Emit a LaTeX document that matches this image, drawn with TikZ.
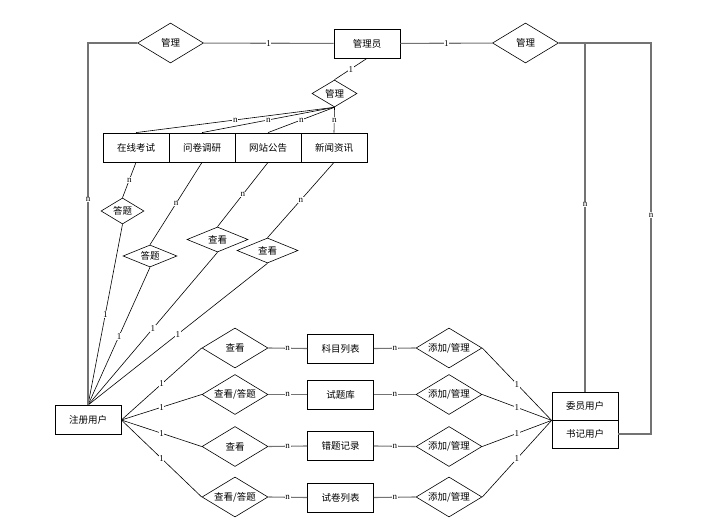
\documentclass[tikz,border=0pt]{standalone}
\usepackage{fontspec}
\setmainfont{Noto Sans CJK SC}
\newfontfamily\labfont{Liberation Serif}
\usetikzlibrary{shapes.geometric,calc}

\begin{document}
\begin{tikzpicture}[x=1pt,y=-1pt,font=\fontsize{9.5}{11}\selectfont,
		ent/.style={draw,line width=0.8pt,minimum width=66pt,minimum height=29pt,inner sep=0pt},
		rel/.style={diamond,draw,line width=0.6pt,aspect=1.65,inner sep=0pt,minimum width=66pt,minimum height=40pt},
		lab/.style={fill=white,inner sep=0.6pt,font=\labfont\fontsize{9}{9}\selectfont},
		grl/.style={draw=black!55,line width=1.1pt},
		thn/.style={draw=black,line width=0.6pt}]
			\useasboundingbox (0,0) rectangle (726,529);
			%管理员
			\node[ent] (admin) at (367,43.5) {管理员};
			\node[rel] (mgl) at (170.5,43) {管理};
			\node[rel] (mgr) at (525.5,43) {管理};
			\node[rel,minimum width=45pt,minimum height=27pt] (mgc) at (334.5,93.5) {管理};
			\draw[grl] (mgl) -- node[lab]{1} (admin);
			\draw[grl] (admin) -- node[lab]{1} (mgr);
			\draw[thn] (admin.south) -- node[lab]{1} (mgc.north);
			%上方实体
			\node[ent] (exam) at (136,147.5) {在线考试};
			\node[ent] (quest) at (202,147.5) {问卷调研};
			\node[ent] (notice) at (268,147.5) {网站公告};
			\node[ent] (news) at (334,147.5) {新闻资讯};
			\draw[thn] (mgc.south) -- node[lab]{n} (exam.north);
			\draw[thn] (mgc.south) -- node[lab]{n} (quest.north);
			\draw[thn] (mgc.south) -- node[lab]{n} (notice.north);
			\draw[thn] (mgc.south) -- node[lab]{n} (news.north);
			%注册用户
			\node[ent] (reg) at (88,420) {注册用户};
			\node[rel,minimum width=43pt,minimum height=26pt] (ans1) at (122.5,211) {答题};
			\node[rel,minimum width=54pt,minimum height=22pt] (ans2) at (150,256) {答题};
			\node[rel,minimum width=61pt,minimum height=25pt] (see1) at (217.5,239.5) {查看};
			\node[rel,minimum width=61pt,minimum height=25pt] (see2) at (267.5,250.5) {查看};
			\draw[thn] (exam.south) -- node[lab]{n} (ans1.north);
			\draw[thn] (quest.south) -- node[lab]{n} (ans2.north);
			\draw[thn] (notice.south) -- node[lab]{n} (see1.north);
			\draw[thn] (news.south) -- node[lab]{n} (see2.north);
			\draw[thn] (ans1.south) -- node[lab]{1} (reg.north);
			\draw[thn] (ans2.south) -- node[lab]{1} (reg.north);
			\draw[thn] (see1.south) -- node[lab]{1} (reg.north);
			\draw[thn] (see2.south) -- node[lab]{1} (reg.north);
			\draw[grl] (mgl.west) -| node[lab,pos=0.716]{n} (reg.north);
			%委员用户 书记用户
			\node[ent,minimum height=28pt] (wy) at (585,406) {委员用户};
			\node[ent,minimum height=28pt] (sj) at (585,434) {书记用户};
			\coordinate (rcorner) at (651,43);
			\draw[grl] (mgr.east) -| node[lab,pos=0.732]{n} (wy.north);
			\draw[grl] (mgr.east) -- (rcorner) |- node[lab,pos=0.22]{n} (sj.east);
			%下方四行
			\node[rel] (v1) at (235,348) {查看};
			\node[rel] (v2) at (235,394.5) {查看/答题};
			\node[rel] (v3) at (235,446.5) {查看};
			\node[rel] (v4) at (235,497) {查看/答题};
			\node[ent] (subj) at (340.5,348.5) {科目列表};
			\node[ent] (bank) at (340.5,394.5) {试题库};
			\node[ent] (wrong) at (340.5,446) {错题记录};
			\node[ent] (paper) at (340.5,497.5) {试卷列表};
			\node[rel] (a1) at (449,348) {添加/管理};
			\node[rel] (a2) at (449,394.5) {添加/管理};
			\node[rel] (a3) at (449,446.5) {添加/管理};
			\node[rel] (a4) at (449,497) {添加/管理};
			\foreach \r/\e/\a in {v1/subj/a1,v2/bank/a2,v3/wrong/a3,v4/paper/a4}{
				\draw[thn] (reg.east) -- node[lab]{1} (\r.west);
				\draw[grl] (\r.east) -- node[lab]{n} (\e.west);
				\draw[grl] (\e.east) -- node[lab]{n} (\a.west);
				\draw[thn] (\a.east) -- node[lab]{1} (wy.south west);
			}
		\end{tikzpicture}
\end{document}
